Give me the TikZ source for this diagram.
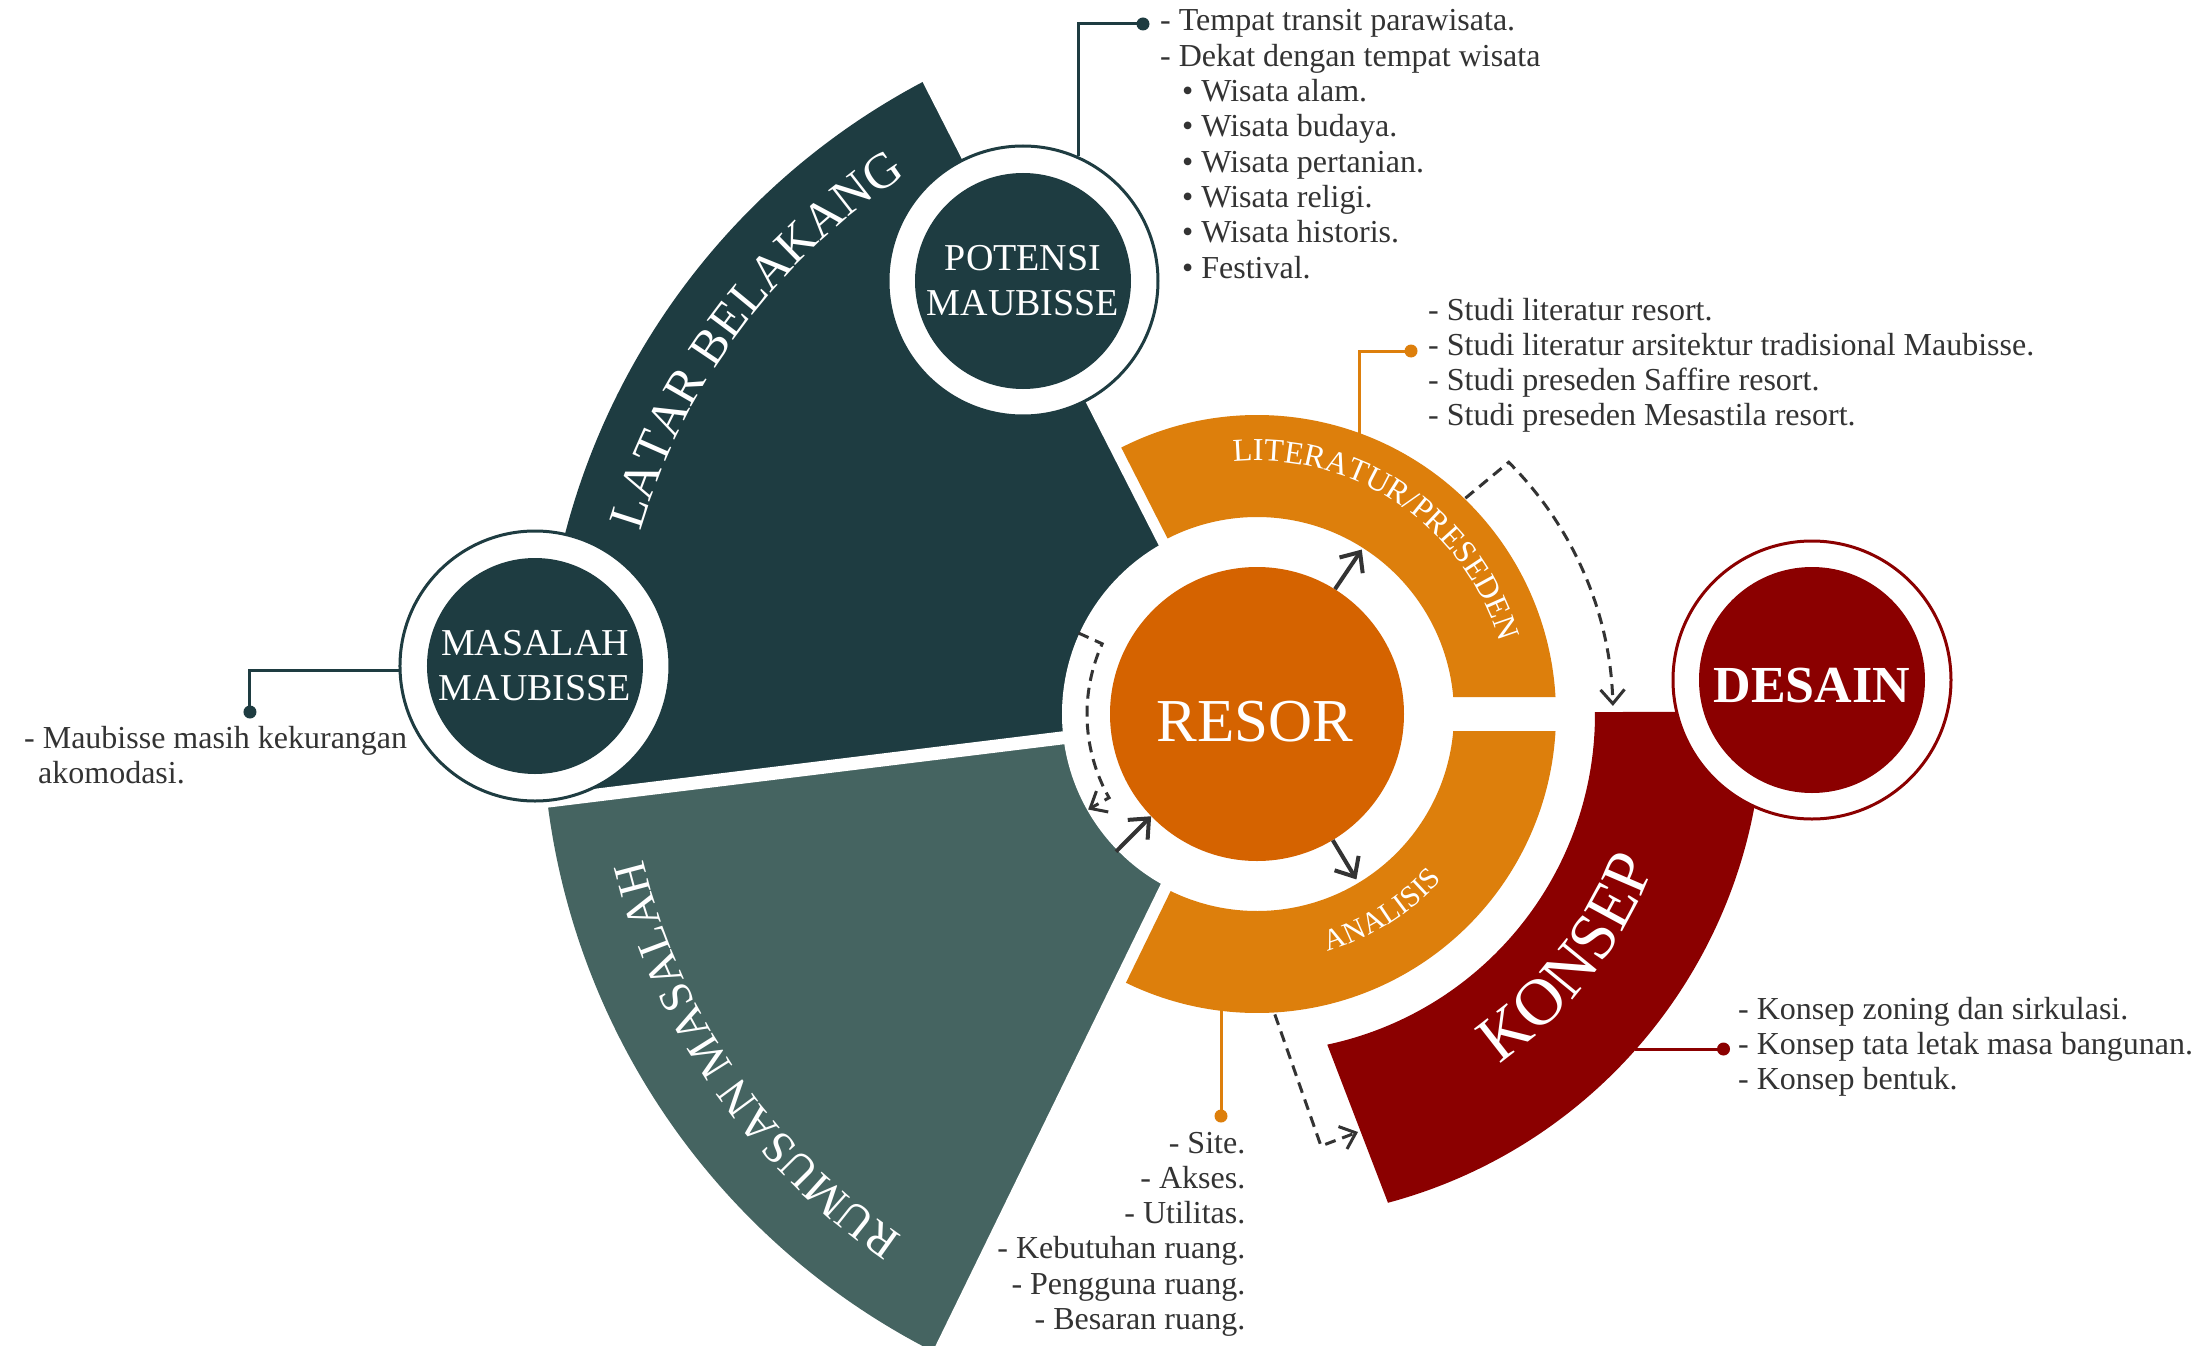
\documentclass[tikz,border=0pt]{standalone}
\usepackage{fontspec}
\setmainfont{Liberation Serif}
\usetikzlibrary{arrows.meta,decorations.text}
\definecolor{dkgreen}{HTML}{1E3C41}
\definecolor{ltgreen}{HTML}{456461}
\definecolor{ringc}{HTML}{DD7F0C}
\definecolor{resorc}{HTML}{D56300}
\definecolor{dkred}{HTML}{8B0000}
\definecolor{ink}{HTML}{333333}
\begin{document}
\begin{tikzpicture}[x=1pt,y=1pt,
  listtext/.style={text=ink, font=\fontsize{32}{35.3}\selectfont, inner sep=0pt},
  conn/.style={line width=3pt},
  ringnode/.style={circle, fill=white, line width=3pt, minimum size=270pt, inner sep=0pt},
  disk/.style={circle, minimum size=216pt, inner sep=0pt, text=white, align=center, font=\fontsize{38}{45}\selectfont},
  dasharr/.style={draw=ink, line width=3pt, dash pattern=on 11pt off 7pt, -{Straight Barb[length=14pt,width=24pt,line width=3pt]}},
  solidarr/.style={draw=ink, line width=4pt, -{Straight Barb[length=16pt,width=28pt,line width=4pt]}},
  curvetext/.style={decorate, decoration={text along path, text align=center, text color=white, text={#1}}}
]
\useasboundingbox (-1257,-631) rectangle (942,714);
\fill[white] (-1257,-631) rectangle (942,714);

% green sectors
\fill[dkgreen] (0,0) -- (117:715) arc[start angle=117, end angle=187, radius=715] -- cycle;
\fill[ltgreen] (0,0) -- (187:715) arc[start angle=187, end angle=244, radius=715] -- cycle;
\draw[white, line width=13pt] (0,0) -- (187:760);
\draw[white, line width=22pt] (0,0) -- (117:760);
\draw[white, line width=24pt] (0,0) -- (244:760);
\fill[white] (0,0) circle[radius=195];

% orange ring pieces
\fill[ringc] (196.27,17) -- (298.52,17) arc[start angle=3.259, end angle=117, radius=299] -- (117:197) arc[start angle=117, end angle=4.951, radius=197] -- cycle;
\fill[ringc] (196.27,-17) -- (298.52,-17) arc[start angle=-3.259, end angle=-116, radius=299] -- (-116:197) arc[start angle=-116, end angle=-4.951, radius=197] -- cycle;

% red sector
\fill[dkred] (0.34:338) -- (0.23:506) arc[start angle=0.23, end angle=-75, radius=506] -- (-78:338) arc[start angle=-78, end angle=0.34, radius=338] -- cycle;

% centre
\node[circle, fill=resorc, minimum size=294pt, inner sep=0pt] (resor) at (0,0) {};
\node[text=white, font=\fontsize{61}{70}\selectfont, inner sep=0pt] (resortxt) at (-2,-8) {RESOR};

% arrows
\coordinate (litin) at (57.5:195);
\coordinate (anain) at (-59:193);
\coordinate (rumout) at (224.3:197);
\draw[solidarr] (resor.58.5) -- (litin);
\draw[solidarr] (resor.-59) -- (anain);
\draw[solidarr] (rumout) -- (resor.224.6);

\coordinate (d1s) at (46:300);
\coordinate (d1c) at (45:356);
\draw[dasharr] (d1s) -- (d1c) arc[start angle=45, end angle=1.3, radius=356];
\coordinate (d2s) at (155.6:196);
\coordinate (d2c) at (155.6:170);
\coordinate (d2e) at (209.5:194);
\draw[dasharr] (d2s) -- (d2c) arc[start angle=155.6, end angle=209.5, radius=170] -- (d2e);
\coordinate (d3s) at (-86.6:301);
\coordinate (d3c) at (64,-432);
\coordinate (d3e) at (101,-418);
\draw[dasharr] (d3s) -- (d3c) -- (d3e);

% circles
\node[ringnode, draw=dkgreen] (potring) at (-234,433) {};
\node[disk, fill=dkgreen] (pot) at (-234,433) {POTENSI\\MAUBISSE};
\node[ringnode, draw=dkgreen] (masring) at (-722,48) {};
\node[disk, fill=dkgreen] (mas) at (-722,48) {MASALAH\\MAUBISSE};
\node[ringnode, draw=dkred, minimum size=278pt] (desring) at (555,34) {};
\node[disk, fill=dkred, minimum size=226pt] (des) at (555,34) {};
\node[text=white, font=\fontsize{52}{60}\selectfont\bfseries, inner sep=0pt] (destxt) at (555,28) {DESAIN};

% curved labels
\path[curvetext={|\fontsize{50}{60}\selectfont|LATAR BELAKANG}] (183.3:643) arc[start angle=183.3, end angle=103.3, radius=643];
\path[curvetext={|\fontsize{46}{55}\selectfont|RUMUSAN MASALAH}] (259.6:631) arc[start angle=259.6, end angle=169.6, radius=631];
\path[curvetext={|\fontsize{32}{38}\selectfont|LITERATUR/PRESEDEN}] (110.9:253) arc[start angle=110.9, end angle=0.9, radius=253];
\path[curvetext={|\fontsize{30}{36}\selectfont|ANALISIS}] (-102.6:248) arc[start angle=-102.6, end angle=-12.6, radius=248];
\path[curvetext={|\fontsize{66}{78}\selectfont|KONSEP}] (-83:425) arc[start angle=-83, end angle=7, radius=425];

% connectors and lists (base anchor = baseline of the last line)
\coordinate (potdot) at (-114,690);
\draw[conn, dkgreen] (potring.66.4) |- (potdot);
\fill[dkgreen] (potdot) circle[radius=6.5];
\node[listtext, anchor=base west, align=left] (potlist) at (-97,435.9) {- Tempat transit parawisata.\\- Dekat dengan tempat wisata\\\hspace*{22pt}\textbullet\ Wisata alam.\\\hspace*{22pt}\textbullet\ Wisata budaya.\\\hspace*{22pt}\textbullet\ Wisata pertanian.\\\hspace*{22pt}\textbullet\ Wisata religi.\\\hspace*{22pt}\textbullet\ Wisata historis.\\\hspace*{22pt}\textbullet\ Festival.};

\coordinate (litfoot) at (69.8:298);
\coordinate (litdot) at (154,363);
\draw[conn, ringc] (litfoot) |- (litdot);
\fill[ringc] (litdot) circle[radius=6.5];
\node[listtext, anchor=base west, align=left] (litlist) at (171,288.1) {- Studi literatur resort.\\- Studi literatur arsitektur tradisional Maubisse.\\- Studi preseden Saffire resort.\\- Studi preseden Mesastila resort.};

\coordinate (anafoot) at (-36,-296);
\coordinate (anadot) at (-36,-402);
\draw[conn, ringc] (anafoot) -- (anadot);
\fill[ringc] (anadot) circle[radius=6.5];
\node[listtext, anchor=base east, align=right] (analist) at (-11.5,-615.5) {- Site.\\- Akses.\\- Utilitas.\\- Kebutuhan ruang.\\- Pengguna ruang.\\- Besaran ruang.};

\coordinate (konfoot) at (378,-335);
\coordinate (kondot) at (466.5,-335);
\draw[conn, dkred] (konfoot) -- (kondot);
\fill[dkred] (kondot) circle[radius=6.5];
\node[listtext, anchor=base west, align=left] (konlist) at (481,-375.6) {- Konsep zoning dan sirkulasi.\\- Konsep tata letak masa bangunan.\\- Konsep bentuk.};

\coordinate (masdot) at (-1007,2);
\draw[conn, dkgreen] (masring.182) -| (masdot);
\fill[dkgreen] (masdot) circle[radius=6.5];
\node[listtext, anchor=base west, align=left] (maslist) at (-1233,-69.3) {- Maubisse masih kekurangan\\\hspace*{14pt}akomodasi.};
\end{tikzpicture}
\end{document}
